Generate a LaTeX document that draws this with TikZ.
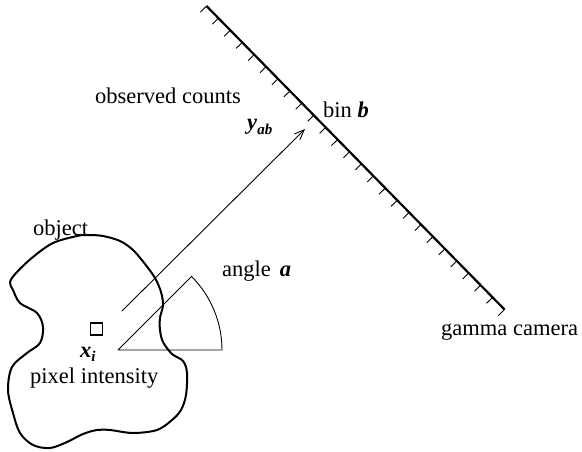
\documentclass[tikz,border=0pt]{standalone}
\usepackage{fontspec}
\setmainfont{Liberation Serif}
\usetikzlibrary{arrows.meta,calc}
\newcommand{\bv}[1]{\textbf{\textit{#1}}}
\begin{document}
\begin{tikzpicture}[x=1pt,y=-1pt,
  lbl/.style={font=\fontsize{22.5}{26}\selectfont, inner sep=0pt},
  thin line/.style={line width=0.9pt},
  camera/.style={line width=2.2pt},
  blob/.style={line width=2pt, line join=round}]
\useasboundingbox (0,0) rectangle (582,451);

% gamma camera line with ticks
\coordinate (camA) at (206.5,6);
\coordinate (camB) at (504.5,309.5);
\draw[camera] (camA) -- (camB);
\foreach \i in {0,...,25}{
  \draw[thin line] ($(camA)!\i/25!(camB)$) -- ++(-6.1,6.0);
}

% arrow y_ab
\coordinate (rayS) at (122,311);
\coordinate (rayT) at (305,129);
\draw[thin line, -{Straight Barb[length=10pt,width=8pt]}] (rayS) -- (rayT);

% angle wedge
\coordinate (apex) at (118,350);
\draw[thin line] (apex) -- (222,350) arc[start angle=0, end angle=-45, radius=104] -- (apex);

% object outline
\draw[blob] plot[smooth cycle, tension=0.55] coordinates {
(88,235) (103,236) (120,241) (133,250) (145,264) (155,278) (161,292) (163,305)
(160,318) (160,330) (163,342) (172,354) (183,361) (187,373) (186,395) (181,410)
(172,420) (157,430) (133,433) (110,430) (97,430) (83,434) (67,442) (50,448)
(33,445) (20,433) (13,413) (8,390) (12,367) (27,353) (40,343) (43,327)
(37,313) (20,303) (13,290) (10,282) (17,272) (33,257) (53,243) (77,236)};

% pixel square
\node[draw, line width=1.7pt, minimum size=12pt, inner sep=0pt] (pix) at (96.5,329) {};

% labels
\node[lbl, anchor=base west] (obs) at (95,103) {observed counts};
\node[lbl, anchor=base west] (bin) at (323,117) {bin \bv{b}};
\node[lbl, anchor=base west] (yab) at (247,129) {\bv{y}\raisebox{-5pt}{\fontsize{15}{16}\selectfont\bv{ab}}};
\node[lbl, anchor=base west] (ang) at (222,276) {angle\hspace{9pt}\bv{a}};
\node[lbl, anchor=base west] (gam) at (441,335) {gamma camera};
\node[lbl, anchor=base west] (obj) at (33,235) {object};
\node[lbl, anchor=base west] (xi) at (80,357) {\bv{x}\raisebox{-4pt}{\fontsize{15}{16}\selectfont\bv{i}}};
\node[lbl, anchor=base west] (pint) at (30,383) {pixel intensity};
\end{tikzpicture}
\end{document}
